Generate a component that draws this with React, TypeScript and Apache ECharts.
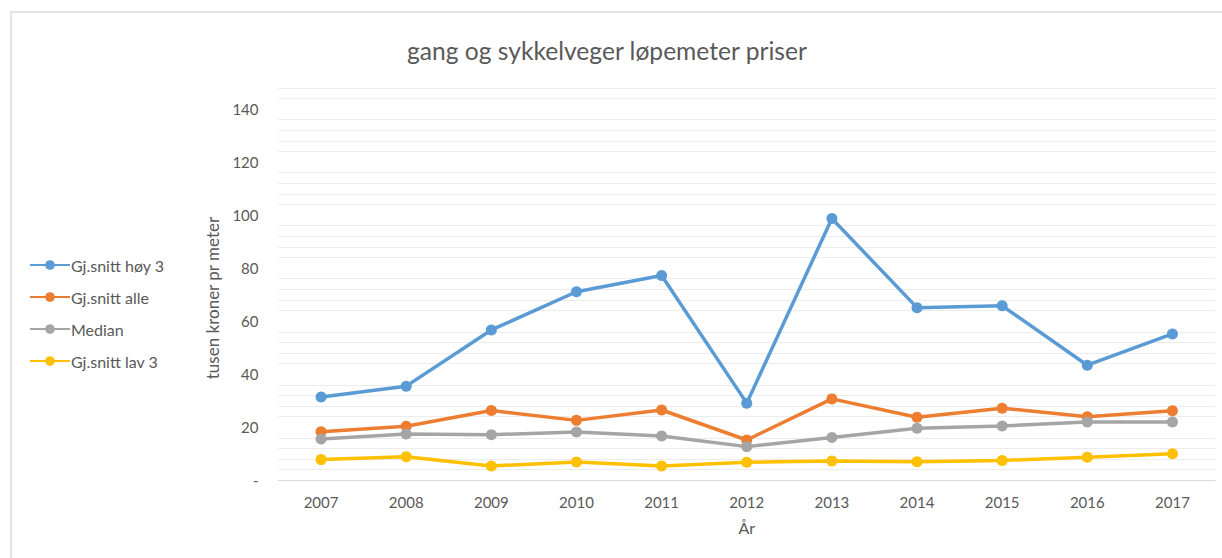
import React, { useEffect, useRef } from 'react';
import * as echarts from 'echarts';

const years = ['2007', '2008', '2009', '2010', '2011', '2012', '2013', '2014', '2015', '2016', '2017'];
const seriesNames = ['Gj.snitt høy 3', 'Gj.snitt alle', 'Median', 'Gj.snitt lav 3'];
const hoy3 = [31.4, 35.5, 56.7, 71.1, 77.2, 29.1, 98.7, 65.1, 65.8, 43.4, 55.2];
const alle = [18.3, 20.4, 26.3, 22.6, 26.5, 15.2, 30.7, 23.8, 27.2, 24.0, 26.2];
const median = [15.6, 17.5, 17.2, 18.2, 16.7, 12.7, 16.1, 19.6, 20.5, 22.0, 22.0];
const lav3 = [7.8, 8.9, 5.4, 6.9, 5.4, 6.8, 7.3, 7.0, 7.5, 8.7, 10.0];
const colors = ['#5B9BD5', '#ED7D31', '#A5A5A5', '#FFC000'];

const FONT = 'Lato';
const TXT = '#595959';

export default function App() {
  const ref = useRef<HTMLDivElement>(null);
  useEffect(() => {
    document.body.style.margin = '0';
    const chart = echarts.init(ref.current!, null, { renderer: 'svg' });
    const grid = '#ececec';
    const dataSets = [hoy3, alle, median, lav3];
    chart.setOption({
      animation: false,
      backgroundColor: '#ffffff',
      textStyle: { fontFamily: FONT },
      title: {
        text: 'gang og sykkelveger løpemeter priser',
        left: 402,
        top: 33,
        textStyle: { fontFamily: FONT, fontSize: 24.6, fontWeight: 'normal', color: TXT },
      },
      graphic: [
        {
          type: 'rect',
          shape: { x: 11, y: 12, width: 1400, height: 700 },
          style: { fill: 'none', stroke: '#d9d9d9', lineWidth: 1.5 },
          silent: true,
        },
      ],
      legend: {
        orient: 'vertical',
        left: 29,
        top: 257,
        itemWidth: 40,
        itemHeight: 12,
        itemGap: 16,
        padding: 0,
        textStyle: { fontFamily: FONT, fontSize: 16, color: TXT, padding: [0, 0, 0, -4] },
        data: seriesNames,
      },
      grid: { left: 278.5, right: 7, top: 87.8, bottom: 77.7 },
      xAxis: {
        type: 'category',
        data: years,
        boundaryGap: true,
        axisLine: { lineStyle: { color: '#d9d9d9', width: 1 } },
        axisTick: { show: false },
        axisLabel: { fontFamily: FONT, fontSize: 15, color: TXT, margin: 14 },
        name: 'År',
        nameLocation: 'middle',
        nameGap: 39,
        nameTextStyle: { fontFamily: FONT, fontSize: 16, color: TXT },
      },
      yAxis: {
        type: 'value',
        min: 0,
        max: 148,
        interval: 4,
        axisLine: { show: false },
        axisTick: { show: false },
        axisLabel: {
          fontFamily: FONT,
          fontSize: 15,
          color: TXT,
          margin: 20,
          showMaxLabel: false,
          formatter: (v: number) => (v === 0 ? '-' : v % 20 === 0 ? String(v) : ''),
        },
        splitLine: {
          show: true,
          lineStyle: { color: ['rgba(0,0,0,0)', grid, grid, grid, grid], width: 1 },
        },
        name: 'tusen kroner pr meter',
        nameLocation: 'middle',
        nameGap: 58,
        nameTextStyle: { fontFamily: FONT, fontSize: 17, color: TXT, padding: [0, 28, 0, 0] },
      },
      series: dataSets.map((d, i) => ({
        name: seriesNames[i],
        type: 'line',
        data: d,
        symbol: 'circle',
        symbolSize: 11,
        color: colors[i],
        lineStyle: { width: 3.5, color: colors[i] },
        itemStyle: { color: colors[i] },
      })),
    });
    return () => chart.dispose();
  }, []);
  return <div ref={ref} style={{ width: 1222, height: 558 }} />;
}
